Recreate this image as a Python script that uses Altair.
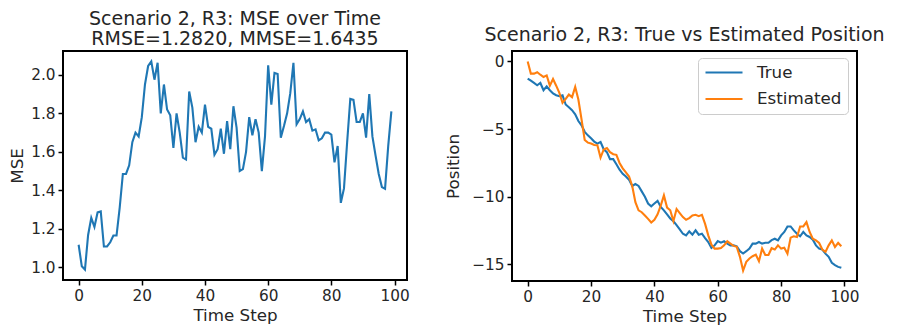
import altair as alt
import pandas as pd

FONT = "DejaVu Sans"
TEXT = "#262626"

time_steps = list(range(100))

mse = [1.117, 1.005, 0.988, 1.168, 1.257, 1.21, 1.285, 1.29, 1.108, 1.108,
       1.13, 1.165, 1.165, 1.31, 1.485, 1.485, 1.53, 1.65, 1.70, 1.68,
       1.78, 1.95, 2.046, 2.07, 1.975, 2.063, 1.80, 1.95, 1.82, 1.79,
       1.62, 1.80, 1.70, 1.57, 1.56, 1.914, 1.83, 1.65, 1.73, 1.70,
       1.845, 1.73, 1.72, 1.585, 1.614, 1.72, 1.59, 1.76, 1.614, 1.837,
       1.726, 1.50, 1.51, 1.60, 1.78, 1.686, 1.77, 1.70, 1.50, 1.68,
       2.05, 1.845, 2.01, 2.005, 1.674, 1.734, 1.80, 1.905, 2.063, 1.743,
       1.77, 1.81, 1.755, 1.77, 1.71, 1.717, 1.66, 1.67, 1.70, 1.70,
       1.69, 1.545, 1.63, 1.335, 1.41, 1.65, 1.875, 1.87, 1.755, 1.755,
       1.80, 1.674, 1.90, 1.68, 1.58, 1.485, 1.417, 1.408, 1.63, 1.81]

true_pos = [-1.27, -1.42, -1.59, -1.76, -1.59, -2.13, -1.84, -2.13, -2.37, -2.5,
            -2.57, -2.5, -3.18, -3.38, -3.6, -3.9, -4.4, -4.72, -5.2, -5.46,
            -5.68, -5.92, -6.07, -5.95, -6.49, -6.7, -7.22, -7.22, -7.6, -8.0,
            -8.3, -8.5, -8.75, -9.2, -9.06, -9.2, -9.6, -10.0, -10.5, -10.7,
            -10.5, -10.3, -10.75, -11.0, -11.3, -11.6, -11.8, -12.1, -12.4, -12.73,
            -12.85, -12.56, -12.8, -12.48, -12.8, -12.73, -13.05, -13.34, -13.78, -13.59,
            -13.27, -13.39, -13.29, -13.46, -13.59, -13.59, -13.66, -14.02, -14.19, -14.02,
            -13.83, -13.46, -13.46, -13.34, -13.46, -13.4, -13.4, -13.2, -13.1, -13.22,
            -12.85, -12.6, -12.19, -12.19, -12.48, -12.73, -12.92, -12.6, -12.85, -12.97,
            -13.17, -13.59, -13.83, -13.9, -14.2, -14.44, -14.88, -15.05, -15.18, -15.25]

est_pos = [0.0, -0.9, -0.9, -0.8, -0.98, -1.15, -1.03, -1.79, -1.3, -1.79,
           -2.32, -3.06, -2.77, -2.45, -2.64, -1.88, -2.81, -4.28, -5.8, -6.0,
           -6.07, -6.17, -6.19, -7.1, -6.5, -6.4, -6.7, -6.85, -6.9, -7.5,
           -7.9, -8.2, -8.5, -9.2, -10.4, -11.0, -11.14, -11.38, -11.63, -11.9,
           -11.7, -11.3, -10.65, -9.9, -10.8, -11.0, -11.8, -10.9, -11.2, -11.5,
           -11.7, -11.58, -11.38, -11.33, -11.43, -11.33, -12.0, -12.85, -13.54, -13.83,
           -13.83, -13.78, -13.59, -13.29, -13.46, -13.63, -13.7, -14.44, -15.45, -14.81,
           -14.56, -14.39, -14.27, -14.76, -13.83, -14.3, -14.3, -13.8, -13.9, -13.59,
           -13.83, -13.76, -14.2, -13.02, -12.92, -12.97, -12.19, -12.19, -11.87, -12.6,
           -13.1, -13.22, -13.41, -13.9, -14.07, -13.59, -13.22, -13.71, -13.41, -13.66]

series_names = ["True", "Estimated"]
series_colors = ["#1f77b4", "#ff7f0e"]
x_ticks = [0, 20, 40, 60, 80, 100]
mse_ticks = [1.0, 1.2, 1.4, 1.6, 1.8, 2.0]
pos_ticks = [0, -5, -10, -15]


def padded(lo, hi, frac=0.05):
    r = hi - lo
    return [lo - frac * r, hi + frac * r]


mse_df = pd.DataFrame({"t": time_steps, "mse": mse})
pos_df = pd.DataFrame({
    "t": time_steps + time_steps,
    "pos": true_pos + est_pos,
    "series": [series_names[0]] * len(true_pos) + [series_names[1]] * len(est_pos),
})

x_dom = padded(min(time_steps), max(time_steps))
x_enc = alt.X("t:Q", scale=alt.Scale(domain=x_dom, nice=False, zero=False),
              axis=alt.Axis(values=x_ticks, format="d", title="Time Step"))

left = alt.Chart(mse_df).mark_line(color=series_colors[0], strokeWidth=2.1).encode(
    x=x_enc,
    y=alt.Y("mse:Q", scale=alt.Scale(domain=padded(min(mse), max(mse)), nice=False, zero=False),
            axis=alt.Axis(values=mse_ticks, format=".1f", title="MSE")),
).properties(
    width=344, height=229,
    title=alt.TitleParams(["Scenario 2, R3: MSE over Time", "RMSE=1.2820, MMSE=1.6435"],
                          offset=2, lineHeight=20.5),
)

all_pos = true_pos + est_pos
color_enc = alt.Color(
    "series:N",
    scale=alt.Scale(domain=series_names, range=series_colors),
    legend=alt.Legend(
        title=None, orient="none", legendX=186, legendY=7,
        symbolType="stroke", symbolSize=1369, symbolStrokeWidth=2.1,
        clipHeight=17, rowPadding=8.5, labelOffset=13, padding=6,
        strokeColor="#cccccc", cornerRadius=4, fillColor="white",
        labelFont=FONT, labelFontSize=16.7, labelColor=TEXT,
    ),
)
y_pos = alt.Y("pos:Q", scale=alt.Scale(domain=padded(min(all_pos), max(all_pos)), nice=False, zero=False),
              axis=alt.Axis(values=pos_ticks, format="d", title="Position", titlePadding=9))

base = alt.Chart(pos_df).mark_line(strokeWidth=2.1).encode(x=x_enc, y=y_pos, color=color_enc)
right = alt.layer(
    base.transform_filter(alt.datum.series == series_names[0]),
    base.transform_filter(alt.datum.series == series_names[1]),
).properties(
    width=345, height=230,
    title=alt.TitleParams("Scenario 2, R3: True vs Estimated Position", offset=6),
)

chart = alt.hconcat(left, right, spacing=105, bounds="flush").resolve_legend(
    color="independent"
).properties(
    padding={"left": 0, "top": 0, "right": 0, "bottom": 5}
).configure(font=FONT).configure_view(
    stroke="black", strokeWidth=2
).configure_axis(
    domain=False, grid=False, tickColor="black", tickWidth=1.5, tickSize=5,
    labelFont=FONT, labelFontSize=15.3, labelColor=TEXT, labelPadding=3,
    titleFont=FONT, titleFontSize=16.7, titleFontWeight="normal", titleColor=TEXT,
    titlePadding=4,
).configure_title(
    font=FONT, fontSize=19, fontWeight="normal", color=TEXT, anchor="middle",
)

chart.save("out.html", embed_options={"renderer": "svg", "actions": False})
